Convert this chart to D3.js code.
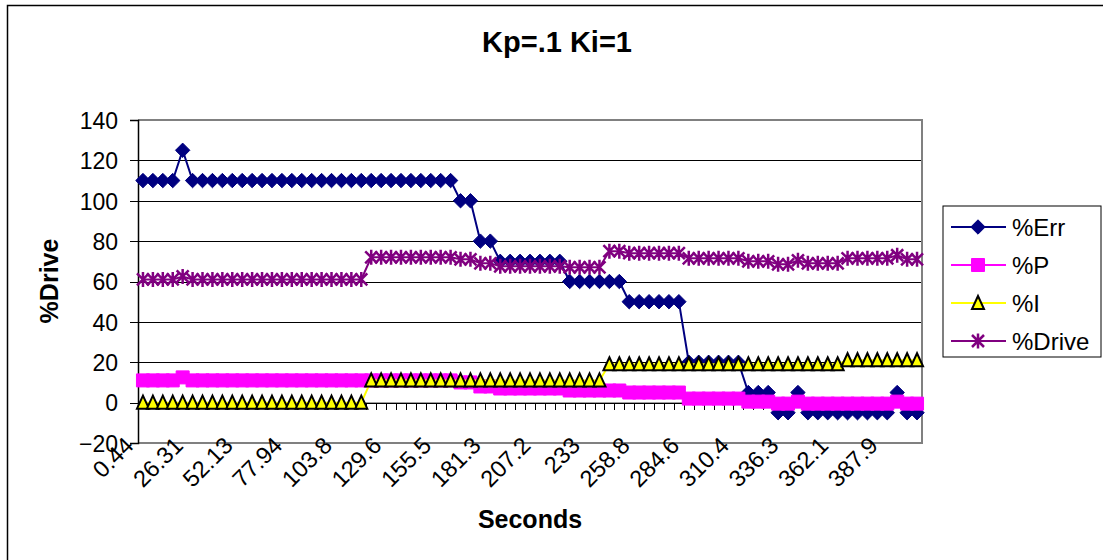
<!DOCTYPE html>
<html><head><meta charset="utf-8">
<script src="https://cdn.jsdelivr.net/npm/d3@7"></script>
<style>body{margin:0;background:#fff} svg{display:block} text{font-family:"Liberation Sans",Arial,sans-serif}</style>
</head><body><svg id="c" width="1103" height="560"></svg>
<script>
const titleText = "Kp=.1 Ki=1";
const xTitle = "Seconds";
const yTitle = "%Drive";
const seriesNames = ["%Err", "%P", "%I", "%Drive"];
const tickLabels = ["0.44","26.31","52.13","77.94","103.8","129.6","155.5","181.3","207.2","233","258.8","284.6","310.4","336.3","362.1","387.9"];
const yTickValues = [-20,0,20,40,60,80,100,120,140];

const errVals = [110,110,110,110,125,
 110,110,110,110,110,110,110,110,110,110,110,110,110,110,110,110,110,110,110,110,110,110,110,110,110,110,110,
 100,100,80,80,
 70,70,70,70,70,70,70,
 60,60,60,60,60,60,
 50,50,50,50,50,50,
 20,20,20,20,20,20,
 5,5,5,-5,-5,5,
 -5,-5,-5,-5,-5,-5,-5,-5,-5,
 5,-5,-5];
const pVals = [11,11,11,11,12.5,
 11,11,11,11,11,11,11,11,11,11,11,11,11,11,11,11,11,11,11,11,11,11,11,11,11,11,11,
 10,10,8,8,
 7,7,7,7,7,7,7,
 6,6,6,6,6,6,
 5,5,5,5,5,5,
 2,2,2,2,2,2,
 0.5,0.5,0.5,-0.5,-0.5,0.5,
 -0.5,-0.5,-0.5,-0.5,-0.5,-0.5,-0.5,-0.5,-0.5,
 0.5,-0.5,-0.5];
const iVals = [0,0,0,0,0,0,0,0,0,0,0,0,0,0,0,0,0,0,0,0,0,0,0,
 11,11,11,11,11,11,11,11,11,11,11,11,11,11,11,11,11,11,11,11,11,11,11,11,
 19,19,19,19,19,19,19,19,19,19,19,19,19,19,19,19,19,19,19,19,19,19,19,19,
 21,21,21,21,21,21,21,21];
const driveVals = [61,61,61,61,62.5,
 61,61,61,61,61,61,61,61,61,61,61,61,61,61,61,61,61,61,
 72,72,72,72,72,72,72,72,72,
 71,71,69,69,
 67.5,67.5,67.5,67.5,67.5,67.5,67.5,
 67,67,67,67,
 75,75,
 74,74,74,74,74,74,
 71.5,71.5,71.5,71.5,71.5,71.5,
 70,70,70,68.5,68.5,70.5,
 69,69,69,69,
 71.5,71.5,71.5,71.5,71.5,
 73,71,71];

const svg = d3.select("#c");
svg.append("rect").attr("x",7.5).attr("y",5.5).attr("width",1200).attr("height",700)
  .attr("fill","#fff").attr("stroke","#000").attr("stroke-width",1.5);

const L=138,R=922,T=120,B=443;
const n = errVals.length;
const x = d3.scaleBand().domain(d3.range(n)).range([L,R]);
const xb = d3.scaleLinear().domain([0,n]).range([L,R]);
const y = d3.scaleLinear().domain([-20,140]).range([B,T]);
const cx = i => x(i) + x.bandwidth()/2;

// gridlines
svg.append("g").attr("transform",`translate(${L},0)`)
  .call(d3.axisRight(y).tickValues(yTickValues.filter(v=>v>-20&&v<140)).tickSize(R-L).tickFormat(""))
  .call(g=>g.select(".domain").remove())
  .call(g=>g.selectAll("line").attr("stroke","#000").attr("shape-rendering","crispEdges"));

// plot border (top/right/bottom gray)
svg.append("path").attr("d",`M${L},${T}H${R}V${B}H${L}`).attr("fill","none")
  .attr("stroke","#808080").attr("stroke-width",2);

// y axis
const ya = svg.append("g").attr("transform",`translate(${L},0)`)
  .call(d3.axisLeft(y).tickValues(yTickValues).tickSize(8).tickPadding(12));
ya.select(".domain").attr("stroke","#000").attr("stroke-width",1.5);
ya.selectAll("line").attr("stroke","#000").attr("shape-rendering","crispEdges");
ya.selectAll("text").attr("font-size",23).attr("fill","#000").attr("font-family","Liberation Sans, Arial").attr("dy","0.36em");

// x axis at y=0 with ticks between categories
const xa = svg.append("g").attr("transform",`translate(0,${y(0)})`)
  .call(d3.axisBottom(xb).tickValues(d3.range(n+1)).tickSize(7).tickSizeOuter(0).tickFormat(""));
xa.select(".domain").attr("stroke","#000");
xa.selectAll("line").attr("stroke","#000").attr("shape-rendering","crispEdges");

// x tick labels at the bottom
svg.append("g").selectAll("text").data(tickLabels).join("text")
  .attr("transform",(d,k)=>`translate(${cx(k*5)-8},${B+4}) rotate(-45)`)
  .attr("text-anchor","end").attr("font-size",23.5).attr("fill","#000").text(d=>d);

// series
const line = d3.line().x((d,i)=>cx(i)).y(d=>y(d));
const diamond = "M0,-7.2L7.2,0L0,7.2L-7.2,0Z";
const square = "M-6.5,-6.5H6.5V6.5H-6.5Z";
const tri = "M0,-7L6,6L-6,6Z";
const star = "M-6,-6L6,6M-6,6L6,-6M0,-7.5V7.5";
const series = [
  {name:seriesNames[0], vals:errVals, color:"#000080", mk:diamond, fill:"#000080", stroke:"#000080", sw:1},
  {name:seriesNames[1], vals:pVals, color:"#FF00FF", mk:square, fill:"#FF00FF", stroke:"#FF00FF", sw:1},
  {name:seriesNames[2], vals:iVals, color:"#FFFF00", mk:tri, fill:"#FFFF00", stroke:"#000", sw:2},
  {name:seriesNames[3], vals:driveVals, color:"#800080", mk:star, fill:"none", stroke:"#800080", sw:2.5}
];
series.forEach(s=>{
  const g = svg.append("g");
  g.append("path").attr("d",line(s.vals)).attr("fill","none").attr("stroke",s.color).attr("stroke-width",2);
  g.selectAll("path.m").data(s.vals).join("path").attr("class","m")
    .attr("transform",(d,i)=>`translate(${cx(i)},${y(d)})`)
    .attr("d",s.mk).attr("fill",s.fill).attr("stroke",s.stroke).attr("stroke-width",s.sw);
});

// titles
svg.append("text").attr("x",557).attr("y",52).attr("text-anchor","middle")
  .attr("font-size",29).attr("font-weight","bold").text(titleText);
svg.append("text").attr("x",530).attr("y",528).attr("text-anchor","middle")
  .attr("font-size",25).attr("font-weight","bold").text(xTitle);
svg.append("text").attr("transform","translate(58,281) rotate(-90)").attr("text-anchor","middle")
  .attr("font-size",25).attr("font-weight","bold").text(yTitle);

// legend
const lg = svg.append("g");
lg.append("rect").attr("x",943).attr("y",206).attr("width",158).attr("height",151)
  .attr("fill","#fff").attr("stroke","#000").attr("stroke-width",1);
series.forEach((s,k)=>{
  const yy = 227 + k*38;
  lg.append("line").attr("x1",951).attr("x2",1006).attr("y1",yy).attr("y2",yy)
    .attr("stroke",s.color).attr("stroke-width",2);
  lg.append("path").attr("transform",`translate(978,${yy})`).attr("d",s.mk)
    .attr("fill",s.fill).attr("stroke",s.stroke).attr("stroke-width",s.sw);
  lg.append("text").attr("x",1012).attr("y",yy).attr("dy","0.36em")
    .attr("font-size",24).text(s.name);
});
</script></body></html>
